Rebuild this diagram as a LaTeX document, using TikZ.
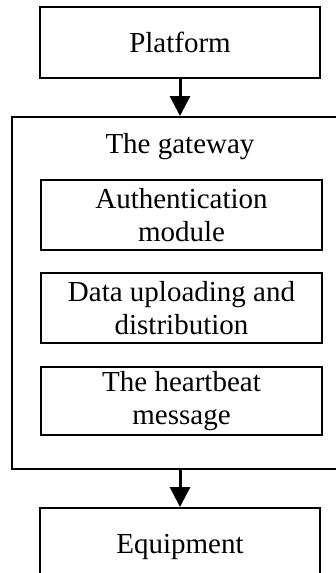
\documentclass[tikz,border=0pt]{standalone}
\usepackage{fontspec}
\setmainfont{Liberation Serif}
\usetikzlibrary{arrows.meta}
\begin{document}
\begin{tikzpicture}[x=1pt,y=1pt,
  box/.style={draw=black,line width=2pt,fill=white,inner sep=0pt,align=center,
    font=\fontsize{29}{33}\selectfont},
  flow/.style={line width=3pt,-{Triangle[length=20pt,width=20pt]}}]
\useasboundingbox (0,0) rectangle (335,-573);
% outer components
\node[box,minimum width=280pt,minimum height=71pt] (platform) at (180,-42.5) {Platform};
\node[box,minimum width=333pt,minimum height=352pt] (gateway) at (178.5,-293) {};
\node[font=\fontsize{29}{33}\selectfont,anchor=base,inner sep=0pt] (gwlabel) at (180,-153) {The gateway};
\node[box,minimum width=280pt,minimum height=77pt] (equip) at (180,-546.5) {Equipment};
% modules inside the gateway
\node[box,minimum width=281pt,minimum height=70pt] (auth) at (181.5,-215) {Authentication\\module};
\node[box,minimum width=281pt,minimum height=70pt] (data) at (181.5,-308) {Data uploading and\\distribution};
\node[box,minimum width=281pt,minimum height=68pt] (heart) at (181.5,-401) {The heartbeat\\message};
% connectors
\draw[flow] (platform.south) -- (platform.south |- gateway.north);
\draw[flow] (platform.south |- gateway.south) -- (equip.north);
\end{tikzpicture}
\end{document}
